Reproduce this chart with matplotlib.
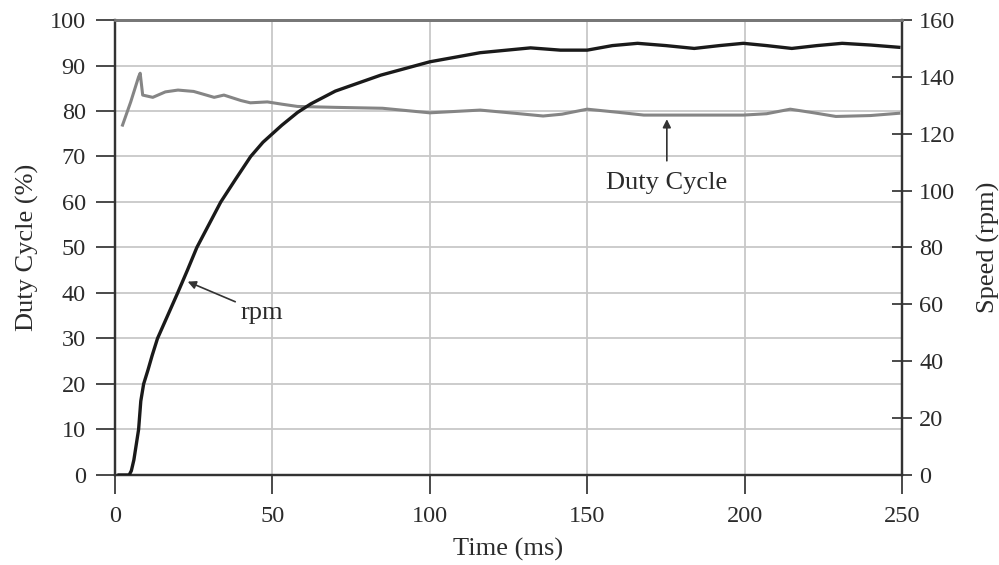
import matplotlib.pyplot as plt

plt.rcParams["font.family"] = ["Liberation Serif", "DejaVu Serif"]

# Duty cycle (%) vs time (ms)
duty_t = [2.4, 5, 7.5, 8, 8.8, 12, 16, 20, 25, 31.5, 34.6, 40, 43, 48.4, 53, 58,
          70, 85, 100, 116, 127, 136, 142, 150, 160, 168, 185, 199.6, 207,
          214.5, 222, 229, 240, 249]
duty = [76.9, 82, 87.5, 88.3, 83.5, 83, 84.2, 84.6, 84.3, 83, 83.5, 82.3, 81.8, 82,
        81.5, 81, 80.8, 80.6, 79.6, 80.2, 79.5, 78.9, 79.3, 80.4, 79.7, 79.1,
        79.1, 79.1, 79.4, 80.4, 79.6, 78.8, 79.0, 79.5]

# Speed (rpm) vs time (ms)
rpm_t = [1.3, 4.5, 5.2, 6, 6.8, 7.5, 8.2, 9.1, 10.5, 11.8, 13.5, 16.7, 19.9, 23, 26,
         29.8, 33.6, 38.3, 43.1, 47, 53, 58, 62.2, 70, 84.4, 100, 116, 132, 141.5,
         150, 158, 166, 175, 184, 192, 199.6, 207, 215, 223, 231, 240, 249]
rpm = [0, 0, 1.5, 5.3, 11, 16, 26, 32, 37, 42, 48, 56, 64, 72, 80,
       88, 96, 104, 112, 117, 123, 127.5, 130.5, 135, 140.6, 145.3, 148.5, 150.2, 149.4,
       149.4, 151, 151.8, 151, 150, 151, 151.8, 151, 150, 151, 151.8, 151.2, 150.4]

x_ticks = [0, 50, 100, 150, 200, 250]
duty_ticks = list(range(0, 101, 10))
rpm_ticks = list(range(0, 161, 20))

txt = "#2b2b2b"
tick_fs = 17.5
lab_fs = 19

fig = plt.figure(figsize=(9.99, 5.65), dpi=100)
ax1 = fig.add_axes([0.1151, 0.1593, 0.7878, 0.8053])
ax2 = ax1.twinx()

ax1.set_xlim(0, 250)
ax1.set_ylim(0, 100)
ax2.set_ylim(0, 160)

ax1.grid(True, color="#c8c8c8", linewidth=1.3)
ax1.set_axisbelow(True)

ax1.plot(duty_t, duty, color="#858585", linewidth=2.2, zorder=3)
ax2.plot(rpm_t, rpm, color="#1a1a1a", linewidth=2.4, zorder=3)

ax1.set_xticks(x_ticks)
ax1.set_yticks(duty_ticks)
ax2.set_yticks(rpm_ticks)

ax1.tick_params(axis="x", direction="out", length=14, width=1.2, colors=txt,
                labelsize=tick_fs, pad=8)
ax1.tick_params(axis="y", direction="out", length=14, width=1.2, colors=txt,
                labelsize=tick_fs, pad=7)
ax2.tick_params(axis="y", direction="inout", length=15, width=1.2, colors=txt,
                labelsize=tick_fs, pad=5)

for ax in (ax1, ax2):
    for side in ("left", "right", "bottom"):
        ax.spines[side].set_color("#333333")
        ax.spines[side].set_linewidth(1.6)
    ax.spines["top"].set_color("#777777")
    ax.spines["top"].set_linewidth(2)

ax1.set_xlabel("Time (ms)", fontsize=lab_fs, color=txt, labelpad=8)
ax1.set_ylabel("Duty Cycle (%)", fontsize=lab_fs, color=txt, labelpad=8)
ax2.set_ylabel("Speed (rpm)", fontsize=lab_fs, color=txt, labelpad=15)

ax1.annotate("rpm", xy=(23.1, 42.5), xytext=(39.9, 35.6), fontsize=lab_fs, color=txt,
             va="center", ha="left",
             arrowprops=dict(arrowstyle="-|>", color="#333333", lw=1.2,
                             shrinkA=2, shrinkB=0, mutation_scale=12))
ax1.annotate("Duty Cycle", xy=(175.3, 78.2), xytext=(175.3, 64.2), fontsize=lab_fs,
             color=txt, va="center", ha="center",
             arrowprops=dict(arrowstyle="-|>", color="#333333", lw=1.2,
                             shrinkA=6, shrinkB=0, mutation_scale=12))

fig.savefig("out.png", dpi=100)
